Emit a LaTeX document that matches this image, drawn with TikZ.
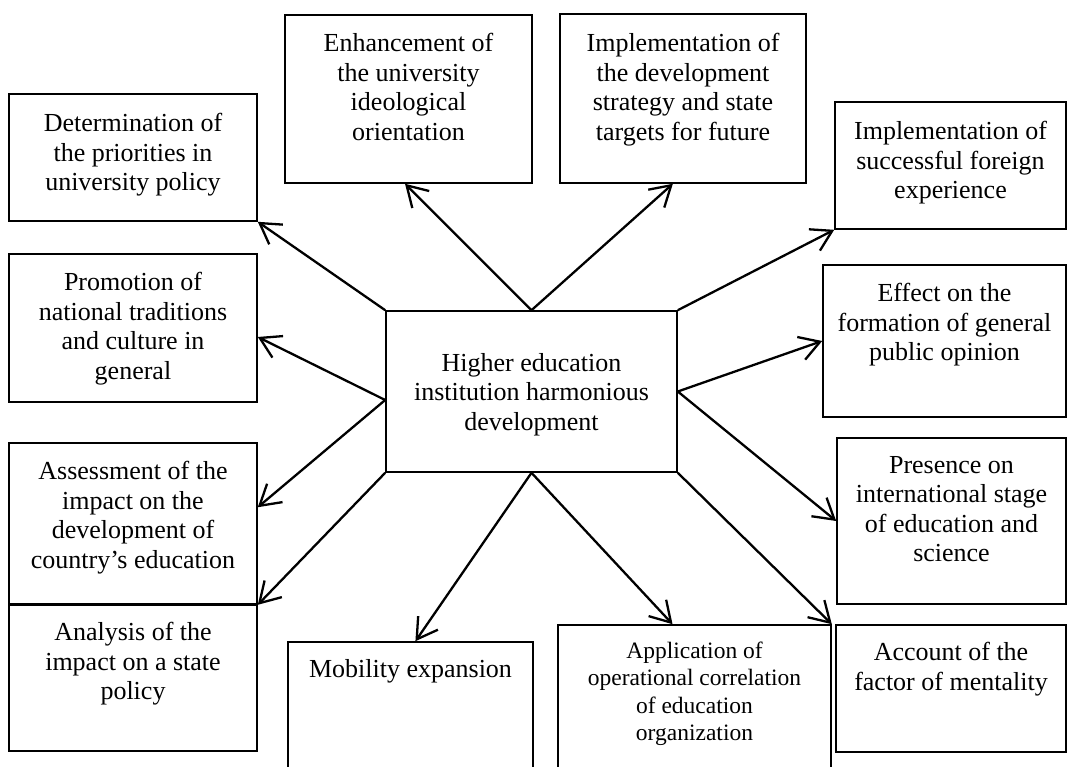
\documentclass[tikz,border=0pt]{standalone}
\usepackage{fontspec}
\setmainfont{Liberation Serif}
\usetikzlibrary{arrows.meta,calc}
\begin{document}
\begin{tikzpicture}[x=1pt,y=-1pt,
  box/.style={draw,line width=1.6pt,rectangle,inner sep=0pt},
  txt/.style={anchor=north,inner sep=0pt,align=center,font=\fontsize{26}{29.5}\selectfont},
  smalltxt/.style={anchor=north,inner sep=0pt,align=center,font=\fontsize{23.5}{27.2}\selectfont},
  arr/.style={line width=2.3pt,-{Straight Barb[length=20pt,width=24pt]}}]
\clip (0,0) rectangle (1072,767);
% boxes
\node[box,minimum width=248pt,minimum height=127pt] (b1) at (133,157.5) {};
\node[box,minimum width=247pt,minimum height=168pt] (b2) at (408.5,99) {};
\node[box,minimum width=246pt,minimum height=169pt] (b3) at (683,98.5) {};
\node[box,minimum width=231pt,minimum height=127pt] (b4) at (950.5,165.5) {};
\node[box,minimum width=248pt,minimum height=148pt] (pr) at (133,328) {};
\node[box,minimum width=243pt,minimum height=152pt] (ef) at (944.5,341) {};
\node[box,minimum width=291pt,minimum height=161pt] (c) at (531.5,391.5) {};
\node[box,minimum width=248pt,minimum height=161pt] (as) at (133,523.5) {};
\node[box,minimum width=229pt,minimum height=166pt] (ps) at (951.5,521) {};
\node[box,minimum width=248pt,minimum height=146pt] (an) at (133,678) {};
\node[box,minimum width=245pt,minimum height=148pt] (mo) at (410.5,716) {};
\node[box,minimum width=273pt,minimum height=165pt] (ap) at (694.5,707.5) {};
\node[box,minimum width=230pt,minimum height=127pt] (ac) at (951,688.5) {};
% texts
\node[txt] (t1) at (133,113) {Determination of\\the priorities in\\university policy};
\node[txt] (t2) at (408.5,33) {Enhancement of\\the university\\ideological\\orientation};
\node[txt] (t3) at (683,33) {Implementation of\\the development\\strategy and state\\targets for future};
\node[txt] (t4) at (950.5,121) {Implementation of\\successful foreign\\experience};
\node[txt] (tpr) at (133,272) {Promotion of\\national traditions\\and culture in\\general};
\node[txt] (tef) at (944.5,283) {Effect on the\\formation of general\\public opinion};
\node[txt] (tc) at (531.5,353) {Higher education\\institution harmonious\\development};
\node[txt] (tas) at (133,461) {Assessment of the\\impact on the\\development of\\country’s education};
\node[txt] (tps) at (951.5,456) {Presence on\\international stage\\of education and\\science};
\node[txt] (tan) at (133,622) {Analysis of the\\impact on a state\\policy};
\node[txt] (tmo) at (410.5,659) {Mobility expansion};
\node[smalltxt] (tap) at (694.5,642) {Application of\\operational correlation\\of education\\organization};
\node[txt] (tac) at (951,642) {Account of the\\factor of mentality};
% connector end points
\coordinate (cl) at ($(c.west)+(0,8.5)$);
\coordinate (e2) at ($(b2.south west)!0.486!(b2.south east)$);
\coordinate (e3) at ($(b3.south west)!0.459!(b3.south east)$);
\coordinate (epr) at ($(pr.north east)!0.56!(pr.south east)$);
\coordinate (eas) at ($(as.north east)!0.40!(as.south east)$);
\coordinate (emo) at ($(mo.north west)!0.52!(mo.north east)$);
\coordinate (eap) at ($(ap.north west)!0.42!(ap.north east)$);
% connectors
\draw[arr] (c.north west) -- (b1.south east);
\draw[arr] (c.north) -- (e2);
\draw[arr] (c.north) -- (e3);
\draw[arr] (c.north east) -- (b4.south west);
\draw[arr] (cl) -- (epr);
\draw[arr] (cl) -- (eas);
\draw[arr] (c.south west) -- (as.south east);
\draw[arr] (c.south) -- (emo);
\draw[arr] (c.south) -- (eap);
\draw[arr] (c.south east) -- (ap.north east);
\draw[arr] (c.east) -- (ef.west);
\draw[arr] (c.east) -- (ps.west);
\end{tikzpicture}
\end{document}
